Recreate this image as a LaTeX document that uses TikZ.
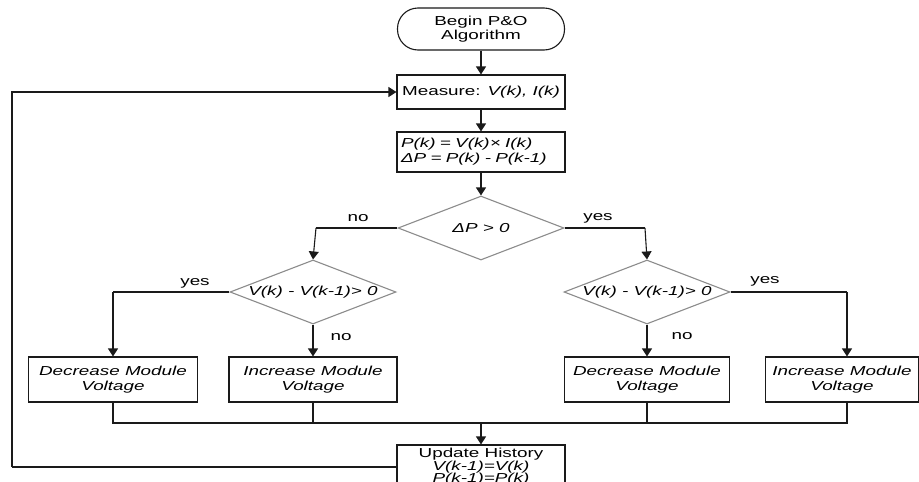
\documentclass[tikz,border=0pt]{standalone}
\usepackage{fontspec}
\setmainfont{Liberation Sans}[FakeStretch=1.45]
\usetikzlibrary{shapes.geometric,arrows.meta}
\definecolor{linec}{HTML}{1A1A1A}
\definecolor{diac}{HTML}{8C8C8C}
\tikzset{
  base/.style={font=\fontsize{13}{15}\selectfont, inner sep=0pt, align=center},
  boxn/.style={base, draw=linec, line width=1.1pt, rectangle},
  itbox/.style={boxn, font=\fontsize{13}{15}\selectfont\itshape},
  termn/.style={base, draw=linec, line width=1.1pt, rectangle, rounded corners=20.5pt, minimum width=167pt, minimum height=42pt},
  dian/.style={base, font=\fontsize{13}{15}\selectfont\itshape, draw=diac, line width=1.1pt, diamond, aspect=2.6, minimum width=166pt, minimum height=64pt},
  lbl/.style={font=\fontsize{13}{15}\selectfont, inner sep=0pt},
  conn/.style={draw=linec, line width=1.1pt},
  arr/.style={conn, -{Triangle[width=10pt,length=8pt]}},
}
\begin{document}
\begin{tikzpicture}[x=1pt,y=-1pt]
\useasboundingbox (0,0) rectangle (919,482);
\fill[white] (0,0) rectangle (919,482);
\begin{scope}
\clip (0,0) rectangle (919,482);
\node[termn] (start) at (481,29) {Begin P\&O\\[-1pt]Algorithm};
\node[boxn, minimum width=168pt, minimum height=34pt] (meas) at (481,92) {Measure: \textit{V(k), I(k)}};
\node[boxn, minimum width=168pt, minimum height=40pt, align=left, text width=160pt] (pk) at (481,152) {\fontsize{13}{13}\selectfont\itshape P(k) = V(k)× I(k)\\ ΔP = P(k) - P(k-1)};
\node[dian] (dp) at (481,228) {ΔP > 0};
\node[dian] (ld) at (313,292) {V(k) - V(k-1)> 0};
\node[dian] (rd) at (647,292) {V(k) - V(k-1)> 0};
\node[itbox, minimum width=169pt, minimum height=45pt] (b1) at (113,379.5) {Decrease Module\\ Voltage};
\node[itbox, minimum width=168pt, minimum height=45pt] (b2) at (313,379.5) {Increase Module\\ Voltage};
\node[itbox, minimum width=165pt, minimum height=45pt] (b3) at (647,379.5) {Decrease Module\\ Voltage};
\node[itbox, minimum width=153pt, minimum height=45pt] (b4) at (842,379.5) {Increase Module\\ Voltage};
\node[boxn, minimum width=168pt, minimum height=44pt, font=\fontsize{13}{12.5}\selectfont] (upd) at (481,467) {Update History\\ \textit{V(k-1)=V(k)}\\ \textit{P(k-1)=P(k)}};
\coordinate (dl) at (316,228);
\coordinate (dr) at (645,228);
\coordinate (ll) at (113,292);
\coordinate (rr) at (847,292);
\coordinate (m1) at (113,423);
\coordinate (m4) at (847,423);
\coordinate (mc) at (481,423);
\coordinate (lc) at (12,467);
\draw[arr] (start) -- (meas);
\draw[arr] (meas) -- (pk);
\draw[arr] (pk) -- (dp);
\draw[conn] (dp.west) -- (dl);
\draw[arr] (dl) -- (ld.north);
\draw[conn] (dp.east) -- (dr);
\draw[arr] (dr) -- (rd.north);
\draw[conn] (ld.west) -- (ll);
\draw[arr] (ll) -- (b1.north -| ll);
\draw[arr] (ld.south) -- (b2.north);
\draw[arr] (rd.south) -- (b3.north);
\draw[conn] (rd.east) -- (rr);
\draw[arr] (rr) -- (b4.north -| rr);
\draw[conn] (b1.south -| m1) -- (m1) -- (m4) -- (b4.south -| m4);
\draw[conn] (b2.south) -- (b2.south |- mc);
\draw[conn] (b3.south) -- (b3.south |- mc);
\draw[arr] (mc) -- (upd.north);
\draw[conn] (upd.west) -- (lc);
\draw[arr] (lc) |- (meas.west);
\node[lbl] (l1) at (358,218) {no};
\node[lbl] (l2) at (598,218) {yes};
\node[lbl] (l3) at (195,283) {yes};
\node[lbl] (l4) at (341,337) {no};
\node[lbl] (l5) at (682,336) {no};
\node[lbl] (l6) at (765,281) {yes};
\end{scope}
\end{tikzpicture}
\end{document}
